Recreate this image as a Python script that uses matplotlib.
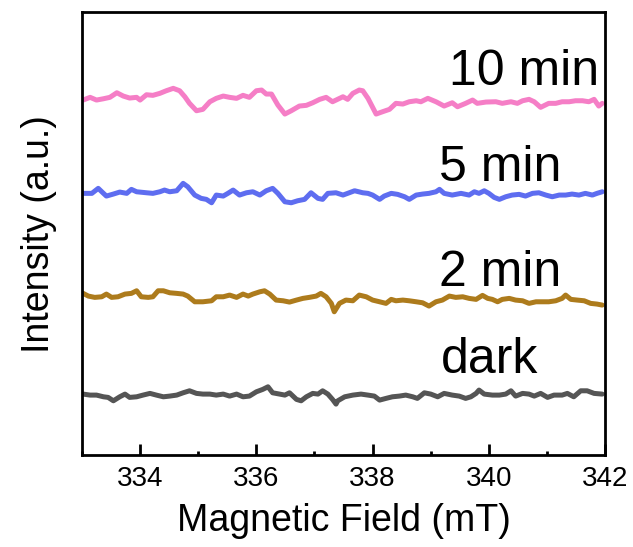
"""EPR spectra under light irradiation, stacked with vertical offsets."""

import matplotlib
matplotlib.use("Agg")
import matplotlib.pyplot as plt
from matplotlib.ticker import MultipleLocator

plt.rcParams["font.family"] = ["Liberation Sans", "DejaVu Sans"]

# field (mT) and intensity (a.u., already offset)
field_10 = [333.02, 333.14, 333.25, 333.37, 333.48, 333.60, 333.71, 333.82, 333.94, 334.00,
            334.11, 334.22, 334.34, 334.45, 334.57, 334.68, 334.77, 334.85, 334.97, 335.08,
            335.20, 335.31, 335.43, 335.54, 335.66, 335.77, 335.88, 336.00, 336.09, 336.17,
            336.26, 336.37, 336.49, 336.60, 336.74, 336.86, 336.97, 337.09, 337.20, 337.31,
            337.49, 337.57, 337.66, 337.77, 337.83, 337.92, 338.06, 338.17, 338.29, 338.40,
            338.52, 338.63, 338.75, 338.83, 338.95, 339.09, 339.23, 339.37, 339.46, 339.60,
            339.72, 339.80, 339.95, 340.12, 340.23, 340.38, 340.49, 340.58, 340.69, 340.78,
            340.89, 341.03, 341.15, 341.26, 341.38, 341.49, 341.61, 341.72, 341.81, 341.89,
            341.95]
int_10 = [35.50, 35.77, 35.50, 35.63, 35.77, 36.23, 35.90, 35.70, 35.77, 35.50,
          36.03, 35.97, 36.17, 36.43, 36.67, 36.43, 35.83, 35.17, 34.43, 34.57,
          35.33, 35.67, 35.90, 35.77, 35.67, 35.97, 35.77, 36.43, 36.50, 36.10,
          36.10, 35.00, 34.10, 34.43, 34.90, 34.97, 35.23, 35.57, 35.77, 35.33,
          35.83, 35.57, 36.17, 36.50, 36.43, 35.67, 34.10, 34.33, 34.57, 35.17,
          35.10, 35.33, 35.43, 35.33, 35.67, 35.33, 34.90, 35.23, 34.83, 35.17,
          35.50, 35.17, 35.30, 35.33, 35.17, 35.33, 35.17, 35.43, 35.57, 35.33,
          34.77, 35.17, 35.17, 35.33, 35.33, 35.43, 35.43, 35.33, 35.57, 34.90,
          35.17]

field_5 = [333.02, 333.17, 333.28, 333.37, 333.42, 333.54, 333.65, 333.77, 333.85, 333.94,
           334.11, 334.22, 334.34, 334.42, 334.51, 334.63, 334.74, 334.82, 334.94, 335.05,
           335.14, 335.23, 335.31, 335.43, 335.51, 335.60, 335.71, 335.83, 335.94, 336.06,
           336.17, 336.28, 336.37, 336.49, 336.60, 336.71, 336.83, 336.94, 337.06, 337.14,
           337.23, 337.37, 337.49, 337.57, 337.69, 337.83, 337.92, 338.00, 338.12, 338.20,
           338.32, 338.43, 338.55, 338.63, 338.75, 338.86, 338.97, 339.09, 339.15, 339.23,
           339.37, 339.52, 339.66, 339.75, 339.83, 339.92, 340.00, 340.09, 340.18, 340.29,
           340.40, 340.52, 340.63, 340.75, 340.86, 340.98, 341.09, 341.21, 341.32, 341.43,
           341.55, 341.66, 341.78, 341.86, 341.95]
int_5 = [26.17, 26.17, 26.67, 26.17, 25.90, 26.10, 26.30, 26.17, 26.57, 26.33,
         26.23, 26.17, 26.33, 26.50, 26.33, 26.43, 27.17, 26.83, 26.00, 25.67,
         25.57, 25.23, 26.00, 25.90, 26.17, 26.50, 26.00, 26.23, 26.33, 26.00,
         26.43, 26.67, 26.17, 25.33, 25.23, 25.43, 25.57, 26.23, 25.67, 25.57,
         26.17, 26.23, 26.00, 26.17, 26.43, 26.23, 26.17, 26.00, 25.57, 25.90,
         26.17, 26.07, 25.83, 25.57, 26.00, 26.10, 26.17, 26.33, 26.57, 26.17,
         26.00, 26.17, 26.00, 26.33, 26.17, 26.43, 26.17, 25.77, 25.57, 25.83,
         26.00, 26.07, 25.90, 26.17, 26.23, 26.00, 25.83, 26.00, 26.00, 26.10,
         26.00, 26.17, 26.00, 26.17, 26.33]

field_2 = [333.02, 333.11, 333.22, 333.34, 333.42, 333.51, 333.62, 333.74, 333.85, 333.94,
           334.02, 334.14, 334.22, 334.31, 334.40, 334.51, 334.63, 334.74, 334.82, 334.94,
           335.08, 335.23, 335.31, 335.43, 335.54, 335.66, 335.77, 335.86, 335.94, 336.06,
           336.14, 336.23, 336.34, 336.46, 336.57, 336.69, 336.80, 336.91, 337.03, 337.11,
           337.20, 337.29, 337.34, 337.43, 337.54, 337.66, 337.77, 337.89, 338.00, 338.12,
           338.23, 338.32, 338.40, 338.52, 338.63, 338.75, 338.86, 338.97, 339.09, 339.20,
           339.32, 339.43, 339.55, 339.66, 339.78, 339.89, 339.98, 340.06, 340.15, 340.23,
           340.35, 340.46, 340.58, 340.69, 340.81, 340.92, 341.03, 341.15, 341.26, 341.32,
           341.41, 341.52, 341.64, 341.75, 341.86, 341.95]
int_2 = [16.17, 15.90, 15.77, 15.83, 16.10, 15.77, 15.83, 16.10, 16.17, 16.43,
         15.83, 15.77, 15.83, 16.43, 16.43, 16.23, 16.17, 16.10, 15.90, 15.33,
         15.33, 15.43, 15.83, 15.83, 16.00, 15.77, 16.10, 15.90, 16.10, 16.33,
         16.43, 16.10, 15.50, 15.43, 15.30, 15.50, 15.67, 15.77, 15.90, 16.17,
         15.83, 15.17, 14.33, 15.17, 15.50, 15.43, 16.00, 15.83, 15.50, 15.33,
         15.17, 15.57, 15.43, 15.50, 15.43, 15.33, 15.23, 14.90, 15.33, 15.50,
         15.90, 15.77, 15.83, 15.67, 15.57, 15.97, 15.67, 15.57, 15.33, 15.57,
         15.67, 15.50, 15.43, 15.17, 15.33, 15.33, 15.33, 15.43, 15.67, 16.00,
         15.57, 15.50, 15.43, 15.17, 15.10, 15.00]

field_dark = [333.02, 333.14, 333.25, 333.37, 333.45, 333.54, 333.65, 333.74, 333.82, 333.94,
              334.05, 334.17, 334.28, 334.40, 334.51, 334.63, 334.74, 334.85, 334.97, 335.08,
              335.20, 335.31, 335.43, 335.54, 335.66, 335.77, 335.88, 336.00, 336.11, 336.20,
              336.28, 336.40, 336.49, 336.57, 336.69, 336.77, 336.86, 336.97, 337.06, 337.14,
              337.23, 337.31, 337.37, 337.40, 337.52, 337.66, 337.80, 337.92, 338.03, 338.12,
              338.23, 338.34, 338.46, 338.57, 338.69, 338.77, 338.89, 339.00, 339.12, 339.23,
              339.37, 339.49, 339.60, 339.69, 339.78, 339.83, 339.92, 340.06, 340.18, 340.29,
              340.38, 340.46, 340.58, 340.69, 340.78, 340.89, 341.01, 341.12, 341.26, 341.35,
              341.46, 341.58, 341.69, 341.81, 341.95]
int_dark = [6.10, 6.00, 6.00, 5.83, 5.77, 5.43, 5.83, 6.10, 5.77, 5.83,
            6.00, 6.17, 6.00, 5.83, 5.90, 6.00, 6.23, 6.43, 6.17, 6.10,
            6.10, 6.00, 6.10, 5.90, 6.10, 5.83, 5.90, 6.33, 6.57, 6.83,
            6.23, 6.10, 6.00, 6.23, 5.57, 5.43, 5.83, 6.17, 6.10, 6.43,
            6.10, 5.57, 5.10, 5.43, 5.83, 6.00, 6.10, 6.00, 5.90, 5.50,
            5.67, 5.83, 5.90, 6.00, 5.83, 5.67, 6.23, 6.10, 5.83, 6.17,
            6.00, 5.90, 5.67, 5.83, 6.17, 6.50, 6.10, 6.00, 6.00, 6.10,
            6.43, 5.90, 6.17, 6.10, 5.90, 6.17, 5.77, 6.00, 6.00, 6.17,
            5.83, 6.43, 6.43, 6.17, 6.10]

labels = ["10 min", "5 min", "2 min", "dark"]
colors = ["#F57EC6", "#5E6DF0", "#AD7B1C", "#555555"]


def main() -> None:
    fig = plt.figure(figsize=(6.33, 5.47), dpi=100)
    ax = fig.add_axes([0.1295, 0.168, 0.8265, 0.81])

    series = [(field_10, int_10), (field_5, int_5), (field_2, int_2), (field_dark, int_dark)]
    for (x, y), c in zip(series, colors):
        ax.plot(x, y, color=c, linewidth=3.6, solid_joinstyle="round",
                solid_capstyle="round")

    # label positions (left edge, baseline) next to each trace
    label_pos = [(339.32, 37.0), (339.15, 27.4), (339.15, 16.9), (339.18, 8.2)]
    for lab, (lx, ly) in zip(labels, label_pos):
        ax.text(lx, ly, lab, fontsize=36, ha="left", va="baseline")

    ax.set_xlim(333, 342)
    ax.set_ylim(0, 44.3)
    ax.xaxis.set_major_locator(MultipleLocator(2))
    ax.xaxis.set_minor_locator(MultipleLocator(1))
    ax.set_yticks([])
    ax.tick_params(axis="x", which="major", direction="in", length=8, width=2,
                   labelsize=20, pad=8)
    ax.tick_params(axis="x", which="minor", direction="in", length=3, width=2)
    for sp in ax.spines.values():
        sp.set_linewidth(2)

    ax.set_xlabel("Magnetic Field (mT)", fontsize=27, labelpad=8)
    ax.set_ylabel("Intensity (a.u.)", fontsize=27, labelpad=18)

    fig.savefig("out.png", dpi=100)
    plt.close(fig)


if __name__ == "__main__":
    main()
